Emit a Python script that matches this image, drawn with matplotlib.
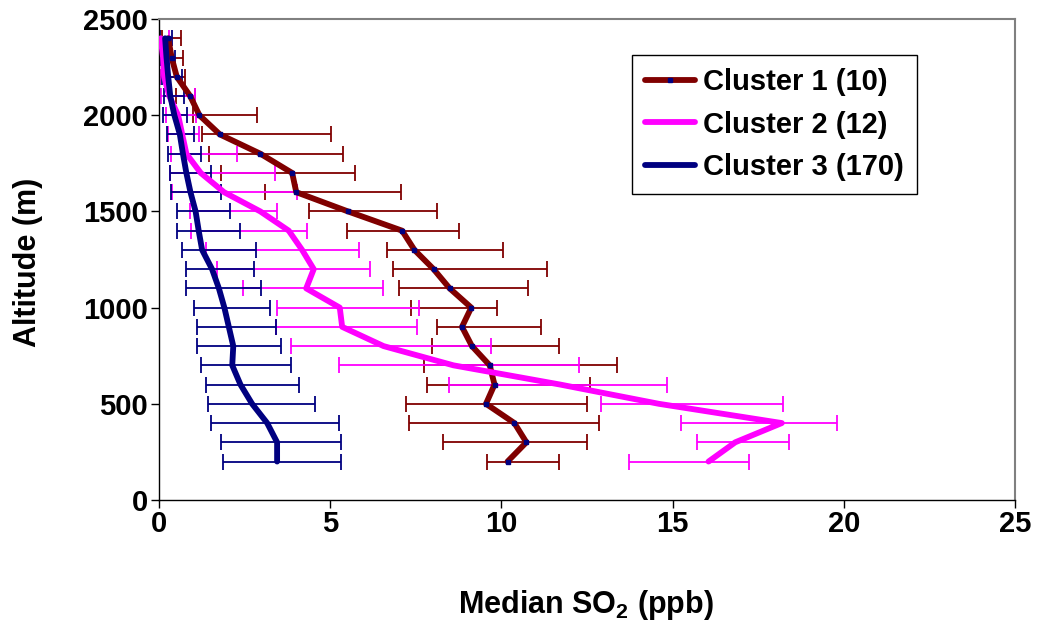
import numpy as np
import matplotlib.pyplot as plt

plt.rcParams['font.family'] = ['Liberation Sans', 'DejaVu Sans']
plt.rcParams['font.weight'] = 'bold'
plt.rcParams['mathtext.fontset'] = 'custom'
plt.rcParams['mathtext.rm'] = 'Liberation Sans:bold'
plt.rcParams['mathtext.bf'] = 'Liberation Sans:bold'

# altitude levels (m)
altitude = [200, 300, 400, 500, 600, 700, 800, 900, 1000, 1100, 1200, 1300,
            1400, 1500, 1600, 1700, 1800, 1900, 2000, 2100, 2200, 2300, 2400]

# Cluster 1 (10)
c1_med  = [10.18, 10.73, 10.38, 9.55, 9.80, 9.66, 9.14, 8.85, 9.12, 8.49, 8.02, 7.46,
           7.10, 5.52, 4.01, 3.89, 2.96, 1.78, 1.18, 0.91, 0.52, 0.37, 0.27]
c1_low  = [9.58, 8.30, 7.29, 7.20, 7.83, 7.73, 7.96, 8.12, 7.37, 7.02, 6.83, 6.66,
           5.49, 4.39, 3.11, 1.82, 1.47, 1.26, 1.00, 0.50, 0.30, 0.20, 0.10]
c1_high = [11.69, 12.50, 12.86, 12.50, 12.58, 13.38, 11.69, 11.17, 9.87, 10.77, 11.33, 10.04,
           8.77, 8.12, 7.07, 5.73, 5.38, 5.03, 2.86, 1.04, 0.75, 0.69, 0.63]

# Cluster 2 (12)
c2_med  = [16.05, 16.83, 18.19, 14.60, 11.72, 8.60, 6.56, 5.35, 5.28, 4.30, 4.52, 4.18,
           3.79, 2.96, 1.90, 1.22, 0.80, 0.68, 0.56, 0.30, 0.15, 0.12, 0.05]
c2_low  = [13.74, 15.71, 15.24, 12.91, 8.48, 5.27, 3.87, 3.43, 3.45, 2.46, 1.70, 1.36,
           0.94, 0.90, 0.39, 0.32, 0.34, 0.25, 0.20, 0.05, 0.02, 0.02, 0.00]
c2_high = [17.24, 18.41, 19.80, 18.22, 14.84, 12.28, 9.70, 7.54, 7.60, 6.55, 6.15, 5.85,
           4.33, 3.45, 4.03, 3.39, 2.29, 1.16, 1.08, 1.04, 0.25, 0.30, 0.30]

# Cluster 3 (170)
c3_med  = [3.45, 3.45, 3.16, 2.72, 2.38, 2.14, 2.17, 2.04, 1.91, 1.75, 1.55, 1.26,
           1.16, 1.07, 0.92, 0.80, 0.70, 0.61, 0.45, 0.33, 0.27, 0.22, 0.18]
c3_low  = [1.87, 1.82, 1.53, 1.43, 1.36, 1.23, 1.12, 1.12, 1.01, 0.80, 0.80, 0.66,
           0.53, 0.53, 0.36, 0.31, 0.26, 0.24, 0.13, 0.14, 0.08, 0.05, 0.03]
c3_high = [5.33, 5.33, 5.27, 4.55, 4.09, 3.87, 3.57, 3.43, 3.23, 2.98, 2.77, 2.82,
           2.36, 2.06, 1.82, 1.53, 1.24, 1.02, 0.82, 0.72, 0.66, 0.47, 0.37]

labels = ['Cluster 1 (10)', 'Cluster 2 (12)', 'Cluster 3 (170)']
colors = ['#800000', '#ff00ff', '#000080']

fig = plt.figure(figsize=(10.39, 6.28), dpi=100)
ax = fig.add_axes([0.153, 0.2038, 0.8239, 0.7659])

series = [(c1_med, c1_low, c1_high), (c2_med, c2_low, c2_high), (c3_med, c3_low, c3_high)]
for k, (med, low, high) in enumerate(series):
    med = np.array(med)
    xerr = [med - np.array(low), np.array(high) - med]
    ax.errorbar(med, altitude, xerr=xerr, fmt='none', ecolor=colors[k],
                elinewidth=1.3, capsize=6, capthick=1.3, zorder=2)

for k, (med, low, high) in enumerate(series):
    if k == 0:
        ax.plot(med, altitude, color=colors[k], lw=4.2, solid_joinstyle='round',
                solid_capstyle='round', marker='s', ms=2.6, mfc='#000080', mec='#000080',
                label=labels[k], zorder=3 + k)
    else:
        ax.plot(med, altitude, color=colors[k], lw=4.2, solid_joinstyle='round',
                solid_capstyle='round', label=labels[k], zorder=3 + k)

ax.set_xlim(0, 25)
ax.set_ylim(0, 2500)
ax.set_xticks([0, 5, 10, 15, 20, 25])
ax.set_yticks([0, 500, 1000, 1500, 2000, 2500])
ax.tick_params(direction='out', length=6, width=1, labelsize=21, pad=1)
ax.tick_params(axis='y', pad=2)

for s in ['left', 'bottom']:
    ax.spines[s].set_color('black')
    ax.spines[s].set_linewidth(1)
for s in ['top', 'right']:
    ax.spines[s].set_color('#808080')
    ax.spines[s].set_linewidth(1.5)

fig.text(586 / 1039, 1 - 605 / 628, 'Median SO$_{2}$ (ppb)', ha='center', va='center',
         fontsize=22, fontweight='bold')
fig.text(28 / 1039, 1 - 262 / 628, 'Altitude (m)', ha='center', va='center',
         rotation=90, fontsize=22, fontweight='bold')

leg = ax.legend(loc='upper left', bbox_to_anchor=(632 / 1039, 1 - 55 / 628),
                bbox_transform=fig.transFigure, fontsize=21, frameon=True,
                fancybox=False, framealpha=1, edgecolor='black', borderaxespad=0,
                handlelength=1.7, handletextpad=0.3, labelspacing=0.5, borderpad=0.45)
leg.get_frame().set_linewidth(1)

fig.savefig('out.png', dpi=100)
